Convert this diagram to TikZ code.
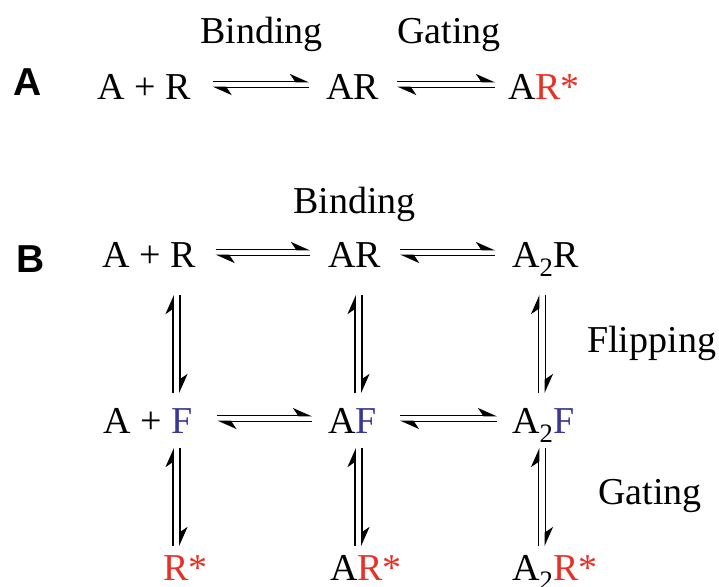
\documentclass[tikz,border=0pt]{standalone}
\usepackage{fontspec}
\setmainfont{Liberation Serif}
\newfontfamily\panelfont{Liberation Sans}
\usetikzlibrary{arrows.meta,calc}

\definecolor{actred}{RGB}{232,48,38}
\definecolor{flipblue}{RGB}{58,56,148}

\newcommand{\act}[1]{\textcolor{actred}{#1}}
\newcommand{\flp}[1]{\textcolor{flipblue}{#1}}

\tikzset{
  species/.style={font=\fontsize{38pt}{40pt}\selectfont, inner sep=0pt, anchor=base west},
  steplabel/.style={species},
  panel/.style={font=\panelfont\bfseries\fontsize{39pt}{41pt}\selectfont, inner sep=0pt, anchor=base west},
  harp/.style={line width=1.8pt, -{Stealth[harpoon, length=17pt, width=15pt, inset=5pt]}},
}

\begin{document}
\begin{tikzpicture}[x=1pt,y=-1pt]
  \fill[white] (0,0) rectangle (719,586);
  \useasboundingbox (0,0) rectangle (719,586);

  % ---- Scheme A: binding, then gating ----
  \node[panel]   (labA) at (13,95)  {A};
  \node[steplabel] (bindA) at (200,44) {Binding};
  \node[steplabel] (gateA) at (397,44) {Gating};
  \node[species] (a1) at (97,99)  {A + R};
  \node[species] (a2) at (326,99) {AR};
  \node[species] (a3) at (508,99) {A\act{R*}};

  \draw[harp] ($(a1.base east)+(22,-17.5)$) -- ($(a2.base west)+(-17,-17.5)$);
  \draw[harp] ($(a2.base west)+(-17,-11.5)$) -- ($(a1.base east)+(22,-11.5)$);
  \draw[harp] ($(a2.base east)+(18,-17.5)$) -- ($(a3.base west)+(-13,-17.5)$);
  \draw[harp] ($(a3.base west)+(-13,-11.5)$) -- ($(a2.base east)+(18,-11.5)$);

  % ---- Scheme B: binding, flipping, gating ----
  \node[panel]   (labB) at (16,272) {B};
  \node[steplabel] (bindB) at (293,213) {Binding};
  \node[steplabel] (flipB) at (587,352) {Flipping};
  \node[steplabel] (gateB) at (598,504) {Gating};

  \node[species] (r1c1) at (102,267) {A + R};
  \node[species] (r1c2) at (328,267) {AR};
  \node[species] (r1c3) at (512,267) {A\textsubscript{2}R};
  \node[species] (r2c1) at (103,433) {A + \flp{F}};
  \node[species] (r2c2) at (328,433) {A\flp{F}};
  \node[species] (r2c3) at (512,433) {A\textsubscript{2}\flp{F}};
  \node[species] (r3c1) at (163,580) {\act{R*}};
  \node[species] (r3c2) at (330,580) {A\act{R*}};
  \node[species] (r3c3) at (512,580) {A\textsubscript{2}\act{R*}};

  % column axes of the vertical equilibria
  \coordinate (x1) at (176.5,0);
  \coordinate (x2) at (358.5,0);
  \coordinate (x3) at (542,0);

  % horizontal equilibria
  \draw[harp] ($(r1c1.base east)+(20,-17.5)$) -- ($(r1c2.base west)+(-18,-17.5)$);
  \draw[harp] ($(r1c2.base west)+(-18,-11.5)$) -- ($(r1c1.base east)+(20,-11.5)$);
  \draw[harp] ($(r1c2.base east)+(19,-17.5)$) -- ($(r1c3.base west)+(-17,-17.5)$);
  \draw[harp] ($(r1c3.base west)+(-17,-11.5)$) -- ($(r1c2.base east)+(19,-11.5)$);

  \draw[harp] ($(r2c1.base east)+(25,-17.5)$) -- ($(r2c2.base west)+(-16,-17.5)$);
  \draw[harp] ($(r2c2.base west)+(-16,-11.5)$) -- ($(r2c1.base east)+(25,-11.5)$);
  \draw[harp] ($(r2c2.base east)+(23,-17.5)$) -- ($(r2c3.base west)+(-15,-17.5)$);
  \draw[harp] ($(r2c3.base west)+(-15,-11.5)$) -- ($(r2c2.base east)+(23,-11.5)$);

  % vertical equilibria
  \foreach \c in {1,2,3}{
    \draw[harp] ($(r2c\c.base -| x\c)+(-3.5,-40)$) -- ($(r1c\c.base -| x\c)+(-3.5,28)$);
    \draw[harp] ($(r1c\c.base -| x\c)+(3.5,28)$) -- ($(r2c\c.base -| x\c)+(3.5,-40)$);
    \draw[harp] ($(r3c\c.base -| x\c)+(-3.5,-34)$) -- ($(r2c\c.base -| x\c)+(-3.5,15)$);
    \draw[harp] ($(r2c\c.base -| x\c)+(3.5,15)$) -- ($(r3c\c.base -| x\c)+(3.5,-34)$);
  }
\end{tikzpicture}
\end{document}
